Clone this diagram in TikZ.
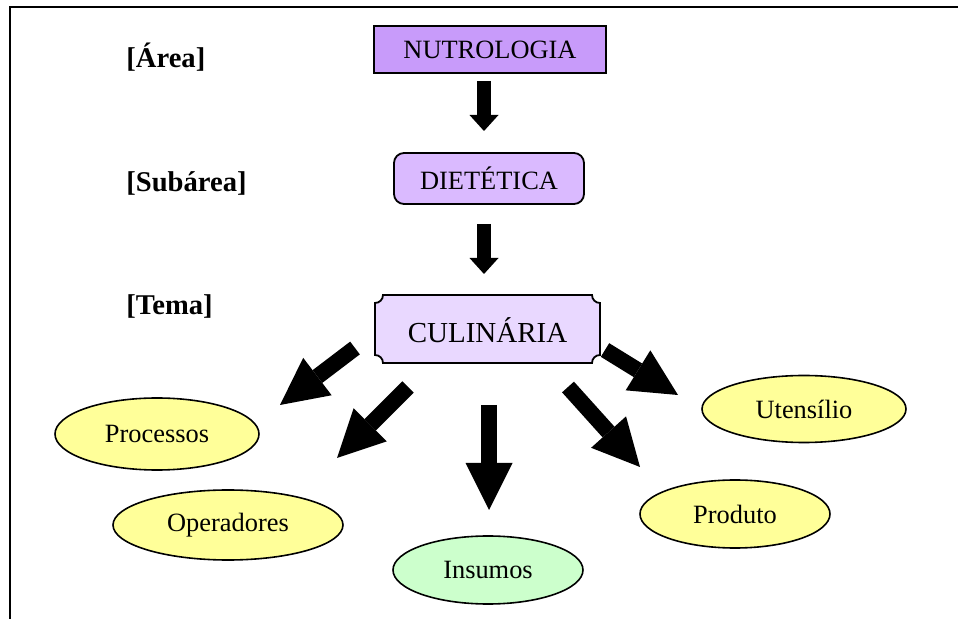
\documentclass[tikz,border=0pt]{standalone}
\usepackage{fontspec}
\setmainfont{Liberation Serif}
\usetikzlibrary{arrows.meta, shapes.geometric, positioning}

\definecolor{nutrofill}{RGB}{200,155,250}
\definecolor{dietfill}{RGB}{218,186,255}
\definecolor{culfill}{RGB}{233,216,255}
\definecolor{topicfill}{RGB}{255,255,153}
\definecolor{insfill}{RGB}{204,255,204}

\begin{document}
\begin{tikzpicture}[x=0.5pt, y=-0.5pt,
		level/.style={anchor=west, inner sep=0pt, font=\fontsize{14.3}{16}\selectfont\bfseries},
		topic/.style={ellipse, draw, line width=0.8pt, fill=topicfill, inner sep=0pt, font=\fontsize{13.2}{15}\selectfont},
		smallarrow/.style={line width=7pt, -{Triangle[length=8pt, width=14.5pt, line width=0pt]}},
		bigarrow/.style={line width=8pt, -{Triangle[length=23.5pt, width=23.5pt, line width=0pt]}}]
		\useasboundingbox (0,0) rectangle (958,619);
		
		% Frame
		\draw[line width=1pt] (958,7) -- (10,7) -- (10,619);
		
		% Levels
		\node[level] (larea) at (126,57) {[Área]};
		\node[level] (lsub) at (126,183) {[Subárea]};
		\node[level] (ltema) at (126,306) {[Tema]};
		
		% Hierarchy boxes
		\node[draw, line width=1pt, fill=nutrofill, minimum width=116pt, minimum height=23.5pt, font=\fontsize{13.2}{15}\selectfont] (nutro) at (490,49.5) {NUTROLOGIA};
		\node[draw, line width=0.9pt, fill=dietfill, rounded corners=5pt, minimum width=95pt, minimum height=25.5pt, font=\fontsize{13.2}{15}\selectfont] (diet) at (489,178.5) {DIETÉTICA};
		\filldraw[line width=0.9pt, fill=culfill] (375,303) -- (375,355) arc(-90:0:8) -- (592,363) arc(180:270:8)
			-- (600,303) arc(90:180:8) -- (383,295) arc(0:90:8) -- cycle;
		\node[font=\fontsize{14.5}{16}\selectfont] (cul) at (487.5,330) {CULINÁRIA};
		
		% Topics
		\node[topic, minimum width=102pt, minimum height=36pt] (proc) at (157,434) {Processos};
		\node[topic, minimum width=115pt, minimum height=35pt] (oper) at (228,525) {Operadores};
		\node[topic, minimum width=95pt, minimum height=34pt, fill=insfill] (ins) at (488,570) {Insumos};
		\node[topic, minimum width=102pt, minimum height=33.5pt] (uten) at (804,409) {Utensílio};
		\node[topic, minimum width=95pt, minimum height=34pt] (prod) at (735,514) {Produto};
		
		% Arrow ends
		\coordinate (n1) at (484,81);  \coordinate (n2) at (484,131);
		\coordinate (d1) at (484,224); \coordinate (d2) at (484,274);
		\coordinate (p1) at (355,348); \coordinate (p2) at (280,405);
		\coordinate (o1) at (408,387); \coordinate (o2) at (337,458);
		\coordinate (i1) at (489,405); \coordinate (i2) at (489,510);
		\coordinate (r1) at (568,387); \coordinate (r2) at (640,467);
		\coordinate (u1) at (605,350); \coordinate (u2) at (678,395);
		
		% Arrows
		\draw[smallarrow] (n1) -- (n2);
		\draw[smallarrow] (d1) -- (d2);
		\draw[bigarrow] (p1) -- (p2);
		\draw[bigarrow] (o1) -- (o2);
		\draw[bigarrow] (i1) -- (i2);
		\draw[bigarrow] (r1) -- (r2);
		\draw[bigarrow] (u1) -- (u2);
	\end{tikzpicture}
\end{document}
